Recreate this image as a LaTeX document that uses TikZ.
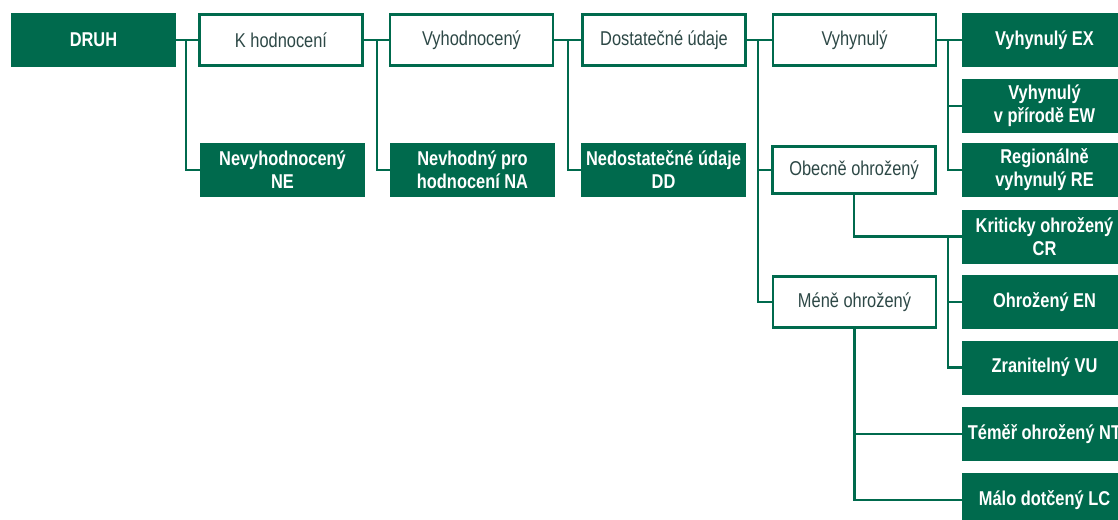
\documentclass[tikz,border=0pt]{standalone}
\usepackage{fontspec}
\setmainfont{Liberation Sans}[FakeStretch=0.82]
\usepackage{tikz}
\usetikzlibrary{positioning}
\definecolor{listgreen}{RGB}{0,106,77}
\definecolor{listtext}{RGB}{45,72,70}
\tikzset{cat/.style={rectangle,draw=listgreen,line width=2.8pt,fill=white,text=listtext,minimum width=163pt,minimum height=51pt,inner sep=2pt,align=center,font=\fontsize{20}{23}\selectfont}}
\tikzset{cls/.style={rectangle,fill=listgreen,text=white,minimum width=165pt,minimum height=54pt,inner sep=2pt,align=center,font=\fontsize{20}{23}\selectfont\bfseries}}
\tikzset{link/.style={draw=listgreen,line width=2.8pt}}

\begin{document}
\begin{tikzpicture}[x=1pt, y=-1pt]
        \useasboundingbox (0,0) rectangle (1118,519);
        % main line
        \node[cls] (druh) at (93.5,40) {DRUH};
        \node[cat] (khod) at (281,40) {K hodnocení};
        \node[cls] (ne) at (282.5,170) {Nevyhodnocený\\NE};
        \node[cat] (vyhod) at (471.5,40) {Vyhodnocený};
        \node[cls] (na) at (472.5,170) {Nevhodný pro\\hodnocení NA};
        \node[cat] (dost) at (664,40) {Dostatečné údaje};
        \node[cls] (dd) at (663.5,170) {Nedostatečné údaje\\DD};
        % fourth column
        \node[cat] (vyhyn) at (854.5,40) {Vyhynulý};
        \node[cat,minimum height=47pt] (obec) at (854,170) {Obecně ohrožený};
        \node[cat] (mene) at (854.5,302) {Méně ohrožený};
        % categories
        \node[cls] (ex) at (1044.5,40) {Vyhynulý EX};
        \node[cls] (ew) at (1044.5,106) {Vyhynulý\\v přírodě EW};
        \node[cls] (re) at (1044.5,170) {Regionálně\\vyhynulý RE};
        \node[cls] (cr) at (1044.5,236.5) {Kriticky ohrožený\\CR};
        \node[cls] (en) at (1044.5,302) {Ohrožený EN};
        \node[cls] (vu) at (1044.5,367.5) {Zranitelný VU};
        \node[cls] (nt) at (1044.5,434) {Téměř ohrožený NT};
        \node[cls] (lc) at (1044.5,500) {Málo dotčený LC};
        % trunks
        \coordinate (t1) at (186,40);
        \coordinate (t2) at (377,40);
        \coordinate (t3) at (568,40);
        \coordinate (t4) at (758,40);
        \coordinate (t5) at (948,40);
        \coordinate (t6) at (948,236.5);
        \coordinate (t7) at (854,236.5);
        \path[link] (druh) -- (khod);
        \path[link] (t1) |- (ne.west);
        \path[link] (khod) -- (vyhod);
        \path[link] (t2) |- (na.west);
        \path[link] (vyhod) -- (dost);
        \path[link] (t3) |- (dd.west);
        \path[link] (dost) -- (vyhyn);
        \path[link] (t4) |- (obec.west);
        \path[link] (t4) |- (mene.west);
        \path[link] (vyhyn) -- (ex);
        \path[link] (t5) |- (ew.west);
        \path[link] (t5) |- (re.west);
        \path[link] (obec.south) |- (cr.west);
        \path[link] (t6) |- (en.west);
        \path[link] (t6) |- (vu.west);
        \path[link] (mene.south) |- (nt.west);
        \path[link] (mene.south) |- (lc.west);
\end{tikzpicture}
\end{document}
